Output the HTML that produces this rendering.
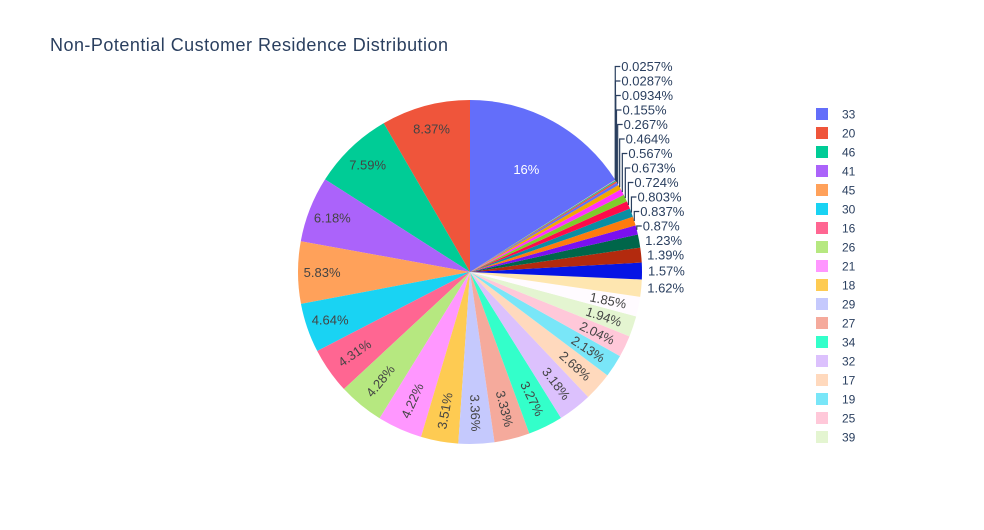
<!DOCTYPE html>
<html><head><meta charset="utf-8">
<style>
html,body{margin:0;padding:0;background:#fff;}
svg text{font-family:"Liberation Sans",sans-serif;}
</style></head>
<body>
<svg id="chart" width="984" height="525" viewBox="0 0 984 525" xmlns="http://www.w3.org/2000/svg">
<rect width="984" height="525" fill="#fff"/>
<text x="50" y="51" font-size="18" textLength="398" lengthAdjust="spacing" fill="#2a3f5f">Non-Potential Customer Residence Distribution</text>
<g id="slices"></g>
<g id="labels"></g>
<g id="legend"></g>
</svg>
<script>
const categories = ["33","20","46","41","45","30","16","26","21","18","29","27","34","32","17","19","25","39","c19","c20","c21","c22","c23","c24","c25","c26","c27","c28","c29","c30","c31","c32","c33","c34","c35"];
const percents = [16,8.37,7.59,6.18,5.83,4.64,4.31,4.28,4.22,3.51,3.36,3.33,3.27,3.18,2.68,2.13,2.04,1.94,1.85,1.62,1.57,1.39,1.23,0.87,0.837,0.803,0.724,0.673,0.567,0.464,0.267,0.155,0.0934,0.0287,0.0257];
const labelTexts = ["16%","8.37%","7.59%","6.18%","5.83%","4.64%","4.31%","4.28%","4.22%","3.51%","3.36%","3.33%","3.27%","3.18%","2.68%","2.13%","2.04%","1.94%","1.85%","1.62%","1.57%","1.39%","1.23%","0.87%","0.837%","0.803%","0.724%","0.673%","0.567%","0.464%","0.267%","0.155%","0.0934%","0.0287%","0.0257%"];
const colors = ["#636efa","#EF553B","#00cc96","#ab63fa","#FFA15A","#19d3f3","#FF6692","#B6E880","#FF97FF","#FECB52",
"#c5c9fd","#f5aa9c","#33ffca","#dcc1fd","#ffd9bd","#79e6f8","#ffc8d9","#e4f5d1","#fffbff","#fee6b0",
"#0615e5","#b32a0e","#00664a","#7a10f0","#ff7b0e","#0b8ea3","#ff0a4a","#7fcc2a","#ff31ff","#f2a800",
"#636efa","#EF553B","#00cc96","#ab63fa","#FFA15A"];
const legendCount = 18;

const NS="http://www.w3.org/2000/svg";
const cx=470, cy=272, R=172;
const total = percents.reduce((a,b)=>a+b,0);
const S = 360*percents[0]/total;
function pt(deg,r){const a=deg*Math.PI/180;return [cx+r*Math.sin(a), cy-r*Math.cos(a)];}
const gS=document.getElementById('slices'), gL=document.getElementById('labels'), gLeg=document.getElementById('legend');
let cum=0;
let lastY=Infinity;
percents.forEach((v,i)=>{
  const a1 = S - 360*cum/total, a0 = S - 360*(cum+v)/total;
  cum+=v;
  const p0=pt(a0,R), p1=pt(a1,R);
  const large=(a1-a0)>180?1:0;
  const path=document.createElementNS(NS,'path');
  path.setAttribute('d',`M${cx},${cy}L${p0[0]},${p0[1]}A${R},${R} 0 ${large} 1 ${p1[0]},${p1[1]}Z`);
  path.setAttribute('fill',colors[i%colors.length]);
  
  
  gS.appendChild(path);
  const mid=(a0+a1)/2;
  const t=document.createElementNS(NS,'text');
  t.setAttribute('font-size','13');
  
  
  t.textContent=labelTexts[i];
  if(i<19){
    const rf = i===0?0.68:(i<6?0.86:0.82);
    const p=pt(mid,R*rf);
    t.setAttribute('text-anchor','middle');
    t.setAttribute('fill', i===0?'#fff':'#444');
    if(i>=6){
      let rot=((mid-90)%360+360)%360;
      if(rot>180) rot-=360;
      if(rot>90) rot-=180; else if(rot<-90) rot+=180;
      t.setAttribute('transform',`rotate(${rot} ${p[0]} ${p[1]})`);
    }
    t.setAttribute('x',p[0]); t.setAttribute('y',p[1]+4.5);
  } else {
    const e=pt(mid,R);
    let ly=e[1];
    if(ly>lastY-14.5) ly=lastY-14.5;
    lastY=ly;
    const tx=e[0]+6;
    t.setAttribute('fill','#2a3f5f');
    t.setAttribute('x',tx); t.setAttribute('y',ly+4.5);
    if(e[1]-ly>2){
      const l=document.createElementNS(NS,'polyline');
      l.setAttribute('points',`${e[0]},${e[1]} ${e[0]},${ly} ${tx-1},${ly}`);
      l.setAttribute('fill','none');
      l.setAttribute('stroke','#2a3f5f');
      l.setAttribute('stroke-width','1.2');
      
      
      gL.appendChild(l);
    }
  }
  gL.appendChild(t);
});
for(let i=0;i<legendCount;i++){
  const y=114+19*i;
  const g=document.createElementNS(NS,'g');
  
  
  const r=document.createElementNS(NS,'rect');
  r.setAttribute('x',816); r.setAttribute('y',y-6); r.setAttribute('width',12); r.setAttribute('height',12);
  r.setAttribute('fill',colors[i]);
  
  
  const tt=document.createElementNS(NS,'text');
  tt.setAttribute('x',842); tt.setAttribute('y',y+4.5); tt.setAttribute('font-size','12'); tt.setAttribute('fill','#2a3f5f');
  
  
  tt.textContent=categories[i];
  g.appendChild(r); g.appendChild(tt); gLeg.appendChild(g);
}
</script>
</body></html>
